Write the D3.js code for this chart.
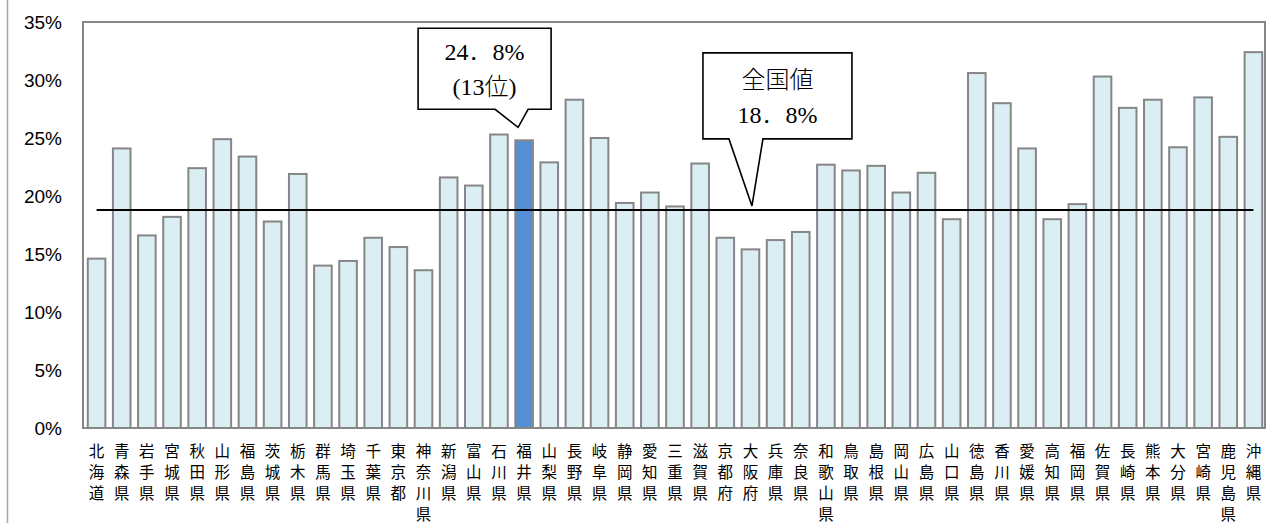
<!DOCTYPE html>
<html lang="ja">
<head>
<meta charset="utf-8">
<script src="https://cdn.jsdelivr.net/npm/d3@7"></script>
<style>
  html, body { margin: 0; padding: 0; background: #ffffff; }
  svg { display: block; }
</style>
</head>
<body>
<svg id="chart" width="1279" height="523"></svg>
<script>
// Prefectures, in the standard north-to-south order
const prefectures = [
  "北海道","青森県","岩手県","宮城県","秋田県","山形県","福島県","茨城県","栃木県","群馬県",
  "埼玉県","千葉県","東京都","神奈川県","新潟県","富山県","石川県","福井県","山梨県","長野県",
  "岐阜県","静岡県","愛知県","三重県","滋賀県","京都府","大阪府","兵庫県","奈良県","和歌山県",
  "鳥取県","島根県","岡山県","広島県","山口県","徳島県","香川県","愛媛県","高知県","福岡県",
  "佐賀県","長崎県","熊本県","大分県","宮崎県","鹿児島県","沖縄県"
];

// Share (%) per prefecture
const shares = [
  14.6, 24.1, 16.6, 18.2, 22.4, 24.9, 23.4, 17.8, 21.9, 14.0,
  14.4, 16.4, 15.6, 13.6, 21.6, 20.9, 25.3, 24.8, 22.9, 28.3,
  25.0, 19.4, 20.3, 19.1, 22.8, 16.4, 15.4, 16.2, 16.9, 22.7,
  22.2, 22.6, 20.3, 22.0, 18.0, 30.6, 28.0, 24.1, 18.0, 19.3,
  30.3, 27.6, 28.3, 24.2, 28.5, 25.1, 32.4
];

const yTicks = [0, 5, 10, 15, 20, 25, 30, 35];
const nationalValue = 18.8;
const highlightName = "福井県";
const highlightRank = 13;
const nationalAnchor = "大阪府";

const svg = d3.select("#chart");

const plot = { left: 84, right: 1266, top: 22, bottom: 428 };

const x = d3.scaleBand()
  .domain(prefectures)
  .range([plot.left, plot.right])
  .paddingInner(0.3)
  .paddingOuter(0.15);

const y = d3.scaleLinear()
  .domain([0, 35])
  .range([plot.bottom, plot.top]);

// Outer chart border (left edge only is in view)
svg.append("line")
  .attr("x1", 7.5).attr("x2", 7.5)
  .attr("y1", 0).attr("y2", 523)
  .attr("stroke", "#a6a6a6").attr("stroke-width", 1.5);

// Plot-area frame
svg.append("rect")
  .attr("x", plot.left - 1)
  .attr("y", plot.top)
  .attr("width", plot.right - plot.left)
  .attr("height", plot.bottom - plot.top)
  .attr("fill", "none")
  .attr("stroke", "#868686")
  .attr("stroke-width", 2);

// Bars
const data = prefectures.map((name, i) => ({ name, value: shares[i] }));

svg.append("g")
  .selectAll("rect")
  .data(data)
  .join("rect")
  .attr("x", d => x(d.name))
  .attr("y", d => y(d.value))
  .attr("width", x.bandwidth())
  .attr("height", d => y(0) - y(d.value))
  .attr("fill", d => d.name === highlightName ? "#558ed5" : "#dbeef4")
  .attr("stroke", "#868686")
  .attr("stroke-width", 2);

// National average line
const first = prefectures[0], last = prefectures[prefectures.length - 1];
svg.append("line")
  .attr("x1", x(first) + x.bandwidth() / 2)
  .attr("x2", x(last) + x.bandwidth() / 2)
  .attr("y1", y(nationalValue))
  .attr("y2", y(nationalValue))
  .attr("stroke", "#000")
  .attr("stroke-width", 2);

// Y axis labels
const yAxis = d3.axisLeft(y)
  .tickValues(yTicks)
  .tickFormat(d => d + "%")
  .tickSize(0)
  .tickPadding(0);

const yg = svg.append("g")
  .attr("transform", "translate(62,0)")
  .call(yAxis);
yg.select(".domain").remove();
yg.selectAll("text")
  .attr("font-family", "'Liberation Sans', Arial, sans-serif")
  .attr("font-size", 19)
  .attr("fill", "#000");

// X axis labels, written vertically one character per line
const xAxis = d3.axisBottom(x).tickSize(0).tickPadding(0);
const xg = svg.append("g")
  .attr("transform", `translate(0,${plot.bottom})`)
  .call(xAxis);
xg.select(".domain").remove();
xg.selectAll(".tick text").each(function(name) {
  const t = d3.select(this);
  t.text(null)
    .attr("y", 0)
    .attr("dy", null)
    .attr("font-family", "'Noto Sans CJK JP', sans-serif")
    .attr("font-size", 15.5)
    .attr("fill", "#000");
  Array.from(name).forEach((ch, i) => {
    t.append("tspan")
      .attr("x", 0)
      .attr("y", 29 + i * 21)
      .text(ch);
  });
});

// Callout shape: rectangle with a pointer toward the tip point
function callout(box, base, tip, lines, lineY) {
  const g = svg.append("g");
  const path = [
    ["M", box.x0, box.y0],
    ["H", box.x1],
    ["V", box.y1],
    ["H", base[1]],
    ["L", tip[0], tip[1]],
    ["L", base[0], box.y1],
    ["H", box.x0],
    ["Z"]
  ].map(s => s.join(" ")).join(" ");
  g.append("path")
    .attr("d", path)
    .attr("fill", "#fff")
    .attr("stroke", "#000")
    .attr("stroke-width", 1.6)
    .attr("stroke-linejoin", "miter");
  const cx = (box.x0 + box.x1) / 2;
  lines.forEach((txt, i) => {
    g.append("text")
      .attr("x", cx)
      .attr("y", lineY[i])
      .attr("text-anchor", "middle")
      .attr("font-family", "'Liberation Serif', 'DejaVu Serif', 'Noto Sans CJK JP', serif")
      .attr("font-size", 24)
      .attr("font-weight", 300)
      .attr("fill", "#000")
      .text(txt);
  });
}

// Highlighted prefecture callout
const hi = data.find(d => d.name === highlightName);
const t1 = [x(hi.name) + x.bandwidth() / 2 - 6, y(hi.value) - 13];
callout(
  { x0: t1[0] - 100, x1: t1[0] + 33, y0: t1[1] - 99, y1: t1[1] - 18 },
  [t1[0] - 23, t1[0] + 10],
  t1,
  [hi.value.toFixed(1).replace(".", "．") + "%", "(" + highlightRank + "位)"],
  [t1[1] - 67, t1[1] - 32]
);

// National value callout
const t2 = [x(nationalAnchor) + x.bandwidth() / 2 + 1.5, y(nationalValue) - 4];
callout(
  { x0: t2[0] - 49, x1: t2[0] + 100, y0: t2[1] - 153, y1: t2[1] - 67 },
  [t2[0] - 23, t2[0] + 11],
  t2,
  ["全国値", nationalValue.toFixed(1).replace(".", "．") + "%"],
  [t2[1] - 118, t2[1] - 83]
);
</script>
</body>
</html>
